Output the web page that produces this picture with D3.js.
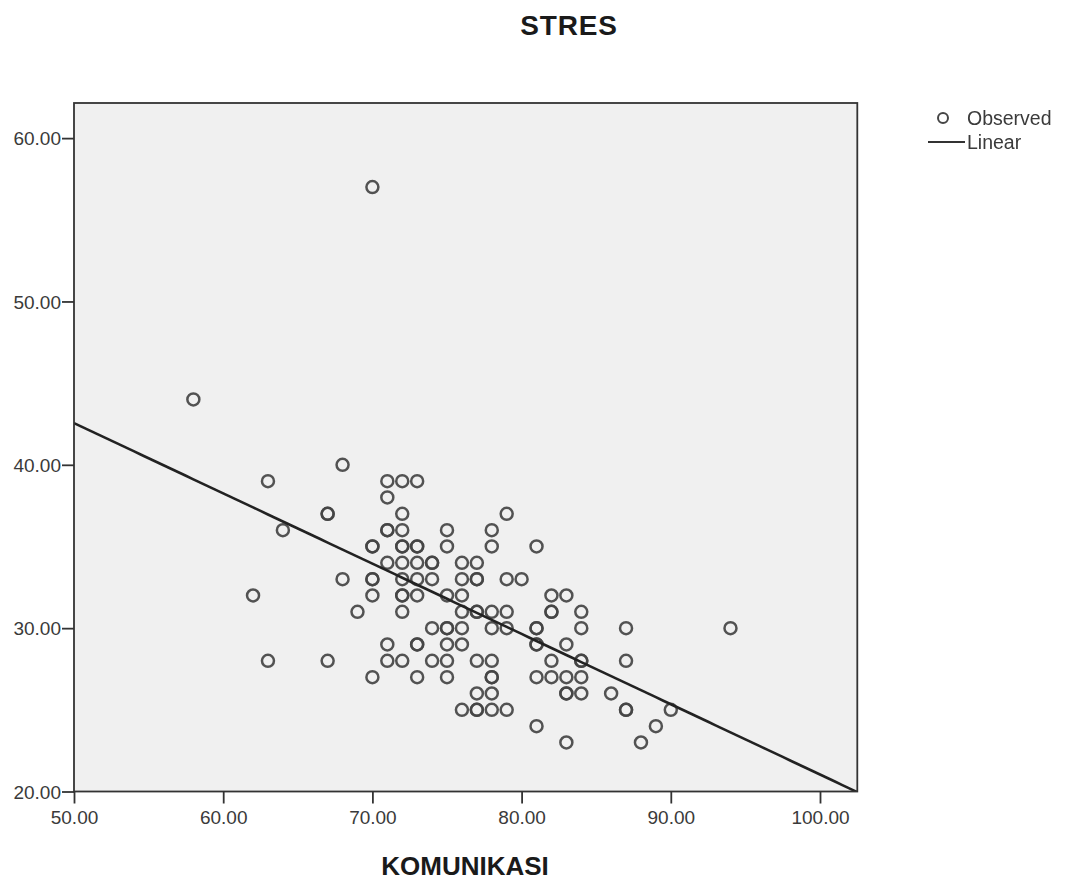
<!DOCTYPE html>
<html>
<head>
<meta charset="utf-8">
<script src="https://cdn.jsdelivr.net/npm/d3@7"></script>
<style>
  html, body { margin: 0; padding: 0; background: #ffffff; }
  svg { display: block; font-family: "Liberation Sans", Arial, sans-serif; }
</style>
</head>
<body>
<svg id="chart" width="1069" height="881"></svg>
<script>
// ---- data ----
const komunikasi = [
  70, 58, 68,
  63, 71, 72, 73,
  71,
  67, 67, 72, 79,
  64, 71, 71, 72, 75, 78,
  70, 70, 72, 72, 73, 73, 75, 78, 81,
  71, 72, 73, 74, 74, 76, 77,
  68, 70, 70, 72, 73, 74, 76, 77, 77, 79, 80,
  62, 70, 72, 72, 73, 75, 76, 82, 83,
  69, 72, 76, 77, 77, 78, 79, 82, 82, 84,
  74, 75, 75, 76, 78, 79, 81, 81, 84, 87, 94,
  71, 73, 73, 75, 76, 81, 81, 83,
  63, 67, 71, 72, 74, 75, 77, 78, 82, 84, 84, 87,
  70, 73, 75, 78, 78, 81, 82, 83, 84,
  77, 78, 83, 83, 84, 86,
  76, 77, 77, 78, 79, 87, 87, 90,
  81, 89,
  83, 88
];
const stres = [
  57, 44, 40,
  39, 39, 39, 39,
  38,
  37, 37, 37, 37,
  36, 36, 36, 36, 36, 36,
  35, 35, 35, 35, 35, 35, 35, 35, 35,
  34, 34, 34, 34, 34, 34, 34,
  33, 33, 33, 33, 33, 33, 33, 33, 33, 33, 33,
  32, 32, 32, 32, 32, 32, 32, 32, 32,
  31, 31, 31, 31, 31, 31, 31, 31, 31, 31,
  30, 30, 30, 30, 30, 30, 30, 30, 30, 30, 30,
  29, 29, 29, 29, 29, 29, 29, 29,
  28, 28, 28, 28, 28, 28, 28, 28, 28, 28, 28, 28,
  27, 27, 27, 27, 27, 27, 27, 27, 27,
  26, 26, 26, 26, 26, 26,
  25, 25, 25, 25, 25, 25, 25, 25,
  24, 24,
  23, 23
];
const xTicks = [50, 60, 70, 80, 90, 100];
const yTicks = [20, 30, 40, 50, 60];
const xDomain = [50, 102.5];
const yDomain = [20, 62.15];
// fitted linear model as drawn in the picture
const linIntercept = 64.07;
const linSlope = -0.4303;
const titleText = "STRES";
const xLabel = "KOMUNIKASI";
const legendLabels = ["Observed", "Linear"];

// ---- layout ----
const svg = d3.select("#chart");
const plot = { left: 74, top: 103, right: 857.3, bottom: 791.5 };

const x = d3.scaleLinear().domain(xDomain).range([plot.left, plot.right]);
const y = d3.scaleLinear().domain(yDomain).range([plot.bottom, plot.top]);

const defs = svg.append("defs");
defs.append("clipPath").attr("id", "clip")
  .append("rect")
  .attr("x", plot.left).attr("y", plot.top)
  .attr("width", plot.right - plot.left).attr("height", plot.bottom - plot.top);
const soft = defs.append("filter").attr("id", "soft")
  .attr("x", "-5%").attr("y", "-5%").attr("width", "110%").attr("height", "110%");
soft.append("feGaussianBlur").attr("stdDeviation", 0.45);

// plot background
svg.append("rect")
  .attr("x", plot.left).attr("y", plot.top)
  .attr("width", plot.right - plot.left).attr("height", plot.bottom - plot.top)
  .attr("fill", "#f0f0f0");

// points
const pts = d3.range(komunikasi.length).map(i => ({ k: komunikasi[i], s: stres[i] }));
svg.append("g")
  .attr("clip-path", "url(#clip)")
  .attr("filter", "url(#soft)")
  .selectAll("circle")
  .data(pts)
  .join("circle")
  .attr("cx", d => x(d.k))
  .attr("cy", d => y(d.s))
  .attr("r", 6)
  .attr("fill", "none")
  .attr("stroke", "#454545")
  .attr("stroke-opacity", 0.92)
  .attr("stroke-width", 2.5);

// regression line
const lineX = d3.range(xDomain[0], xDomain[1] + 0.001, 0.5);
const line = d3.line().x(d => x(d)).y(d => y(linIntercept + linSlope * d));
svg.append("path")
  .attr("clip-path", "url(#clip)")
  .attr("filter", "url(#soft)")
  .attr("d", line(lineX))
  .attr("fill", "none")
  .attr("stroke", "#222222")
  .attr("stroke-width", 2.6);

// frame
svg.append("rect")
  .attr("x", plot.left).attr("y", plot.top)
  .attr("width", plot.right - plot.left).attr("height", plot.bottom - plot.top)
  .attr("fill", "none")
  .attr("stroke", "#333333")
  .attr("stroke-width", 1.8);

// axes
const fmt = d3.format(".2f");
const xAxis = svg.append("g")
  .attr("transform", `translate(0,${plot.bottom})`)
  .call(d3.axisBottom(x).tickValues(xTicks).tickFormat(fmt).tickSize(12).tickPadding(7));
const yAxis = svg.append("g")
  .attr("transform", `translate(${plot.left},0)`)
  .call(d3.axisLeft(y).tickValues(yTicks).tickFormat(fmt).tickSize(12).tickPadding(1));
[xAxis, yAxis].forEach(g => {
  g.select(".domain").remove();
  g.selectAll(".tick line").attr("stroke", "#333333").attr("stroke-width", 1.8);
  g.selectAll(".tick text")
    .attr("fill", "#3a3a3a")
    .style("font-family", '"Liberation Sans", Arial, sans-serif')
    .style("font-size", "19px");
});
yAxis.selectAll(".tick text").attr("dy", "0.36em");

// title
svg.append("text")
  .attr("x", 569).attr("y", 35)
  .attr("text-anchor", "middle")
  .attr("font-weight", "bold")
  .attr("font-size", 28)
  .attr("letter-spacing", 0.8)
  .attr("fill", "#1a1a1a")
  .text(titleText);

// x label
svg.append("text")
  .attr("x", 465).attr("y", 875)
  .attr("text-anchor", "middle")
  .attr("font-weight", "bold")
  .attr("font-size", 26)
  .attr("fill", "#1a1a1a")
  .text(xLabel);

// legend
const lg = svg.append("g").attr("filter", "url(#soft)");
lg.append("circle")
  .attr("cx", 943).attr("cy", 118).attr("r", 5)
  .attr("fill", "none").attr("stroke", "#454545").attr("stroke-width", 2);
lg.append("line")
  .attr("x1", 928).attr("x2", 965).attr("y1", 142).attr("y2", 142)
  .attr("stroke", "#333").attr("stroke-width", 2.2);
lg.selectAll("text")
  .data(legendLabels)
  .join("text")
  .attr("x", 967)
  .attr("y", (d, i) => 125 + i * 24)
  .attr("font-size", 19.5)
  .attr("fill", "#3a3a3a")
  .text(d => d);
</script>
</body>
</html>
